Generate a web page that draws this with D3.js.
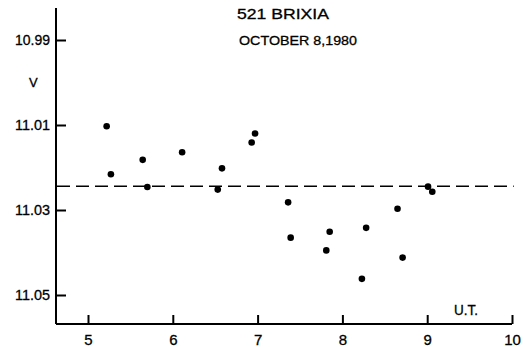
<!DOCTYPE html>
<html><head><meta charset="utf-8">
<script src="https://cdn.jsdelivr.net/npm/d3@7"></script>
<style>
html,body{margin:0;padding:0;background:#fff;}
svg{display:block;font-family:"Liberation Sans",Arial,sans-serif;}
</style></head>
<body>
<svg id="c" width="525" height="347"></svg>
<script>
// Data: universal time (hours) and V magnitude
const utHours = [5.22, 5.27, 5.645, 5.70, 6.11, 6.53, 6.58, 6.93, 6.97, 7.36, 7.39, 7.81, 7.85, 8.23, 8.28, 8.65, 8.71, 9.01, 9.06];
const vMag    = [11.0103, 11.0216, 11.0182, 11.0246, 11.0164, 11.0252, 11.0202, 11.0141, 11.0120, 11.0282, 11.0365, 11.0395, 11.0351, 11.0462, 11.0342, 11.0297, 11.0412, 11.0245, 11.0257];
const meanMag = 11.0244;
const xTicks = [5, 6, 7, 8, 9, 10];
const yTicks = [10.99, 11.01, 11.03, 11.05];
const yTickLabels = ["10.99", "11.01", "11.03", "11.05"];
const titleLines = ["521 BRIXIA", "OCTOBER 8,1980"];
const yLabel = "V";
const xLabel = "U.T.";

const svg = d3.select("#c");
const x = d3.scaleLinear().domain([5, 10]).range([88, 512]);
const y = d3.scaleLinear().domain([10.99, 11.05]).range([40, 295]);

const xMin = x.invert(56), yTop = y.invert(8), yBot = y.invert(324);

// axis lines
svg.append("line").attr("x1", x(xMin)).attr("x2", x(10)).attr("y1", y(yBot)).attr("y2", y(yBot))
  .attr("stroke", "#000").attr("stroke-width", 2);
svg.append("line").attr("x1", x(xMin)).attr("x2", x(xMin)).attr("y1", y(yTop)).attr("y2", y(yBot))
  .attr("stroke", "#000").attr("stroke-width", 2);

// x axis
const gx = svg.append("g").attr("transform", `translate(0,${y(yBot)})`)
  .call(d3.axisBottom(x).tickValues(xTicks).tickFormat(d3.format("d")).tickSizeInner(-9).tickSizeOuter(0).tickPadding(10));
gx.select(".domain").remove();
gx.selectAll("line").attr("stroke-width", 2);
gx.selectAll("text").attr("font-size", 15).attr("fill", "#000").attr("font-family", "Liberation Sans, Arial, sans-serif")
  .attr("stroke", "#000").attr("stroke-width", 0.3);

// y axis
const gy = svg.append("g").attr("transform", `translate(${x(xMin)},0)`)
  .call(d3.axisLeft(y).tickValues(yTicks).tickFormat((d, i) => yTickLabels[i]).tickSizeInner(-10).tickSizeOuter(0).tickPadding(6));
gy.select(".domain").remove();
gy.selectAll("line").attr("stroke-width", 2);
gy.selectAll("text").attr("font-size", 15).attr("fill", "#000").attr("font-family", "Liberation Sans, Arial, sans-serif")
  .attr("textLength", 35).attr("lengthAdjust", "spacingAndGlyphs")
  .attr("stroke", "#000").attr("stroke-width", 0.3);

// mean dashed line
svg.append("line").attr("x1", x(xMin) + 1).attr("x2", x(10.02)).attr("y1", y(meanMag)).attr("y2", y(meanMag))
  .attr("stroke", "#000").attr("stroke-width", 1.5).attr("stroke-dasharray", "13,6");

// points
svg.append("g").selectAll("circle").data(utHours).join("circle")
  .attr("cx", d => x(d)).attr("cy", (d, i) => y(vMag[i])).attr("r", 3.3).attr("fill", "#000");

// titles
const tStyle = s => s.attr("stroke", "#000").attr("stroke-width", 0.3);
svg.append("text").attr("x", 237).attr("y", 19).attr("font-size", 15).text(titleLines[0])
  .attr("textLength", 92).attr("lengthAdjust", "spacingAndGlyphs").call(tStyle);
svg.append("text").attr("x", 239).attr("y", 45).attr("font-size", 13).text(titleLines[1])
  .attr("textLength", 118).attr("lengthAdjust", "spacingAndGlyphs").call(tStyle);
svg.append("text").attr("x", 29).attr("y", 87).attr("font-size", 13).text(yLabel).call(tStyle);
svg.append("text").attr("x", 454).attr("y", 315).attr("font-size", 14).text(xLabel)
  .attr("textLength", 24).attr("lengthAdjust", "spacingAndGlyphs").call(tStyle);
</script>
</body></html>
